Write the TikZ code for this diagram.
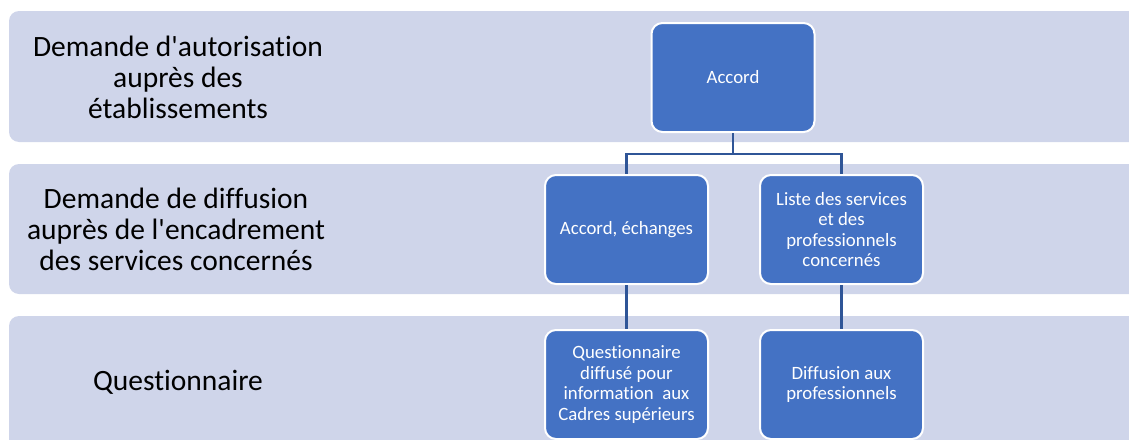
\documentclass[tikz,border=0pt]{standalone}
\usepackage{fontspec}
\setmainfont{Carlito}[Ligatures={TeXOff,NoCommon}]
\usetikzlibrary{calc, positioning}
\definecolor{bandfill}{RGB}{207,213,234}
\definecolor{boxfill}{RGB}{68,114,196}
\definecolor{linkcol}{RGB}{47,85,151}

\begin{document}
\begin{tikzpicture}[x=1pt, y=-1pt]
% TikZ styles
\tikzset{
  band/.style={fill=bandfill, rounded corners=10pt},
  layer/.style={align=center, text=black, font=\fontsize{29.5}{31}\selectfont},
  stepbox/.style={rectangle, rounded corners=11pt, draw=white, line width=2pt, fill=boxfill, text=white, minimum width=163pt, minimum height=109pt, align=center, font=\fontsize{18.8}{20.5}\selectfont},
  link/.style={draw=linkcol, line width=2.5pt}
};
\useasboundingbox (0,0) rectangle (1129,439);
\clip (0,0) rectangle (1129,439);

%==========================
% Bandes
%==========================
\fill[band] (9,11) rectangle (1160,142);
\fill[band] (9,164) rectangle (1160,294);
\fill[band] (9,316) rectangle (1160,470);

\node[layer] (autorisation) at (178,77) {Demande d'autorisation\\auprès des\\établissements};
\node[layer] (diffusion) at (176,229) {Demande de diffusion\\auprès de l'encadrement\\des services concernés};
\node[layer] (questlayer) at (178,382) {Questionnaire};

%==========================
% Organigramme
%==========================
\node[stepbox] (accord) at (733,77.5) {Accord};
\node[stepbox] (echanges) at (626.5,229.5) {Accord, échanges};
\node[stepbox, right=50pt of echanges] (liste) {Liste des services\\et des\\professionnels\\concernés};
\node[stepbox, below=44pt of echanges] (cadres) {Questionnaire\\diffusé pour\\information~ aux\\Cadres supérieurs};
\node[stepbox, below=44pt of liste] (pros) {Diffusion aux\\professionnels};

\coordinate (split) at ($(accord.south)+(0,21)$);

% === Liens ===
\draw[link] (accord.south) -- (split);
\draw[link] (split) -| (echanges.north);
\draw[link] (split) -| (liste.north);
\draw[link] (echanges.south) -- (cadres.north);
\draw[link] (liste.south) -- (pros.north);
\end{tikzpicture}
\end{document}
